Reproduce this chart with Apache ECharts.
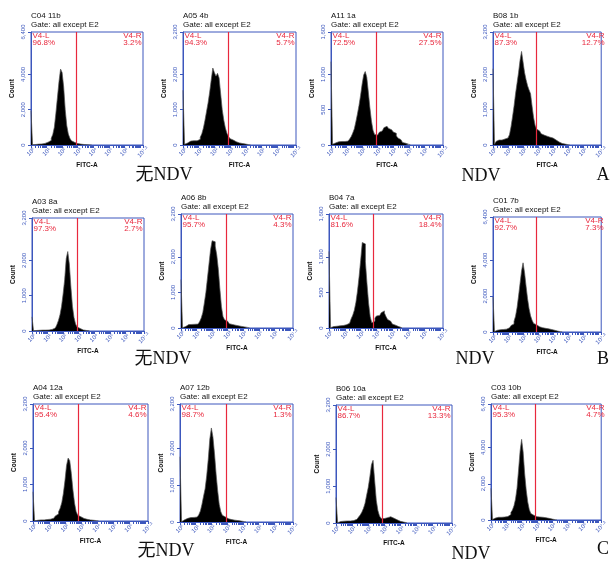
<!DOCTYPE html>
<html><head><meta charset="utf-8">
<script src="https://cdn.jsdelivr.net/npm/echarts@6/dist/echarts.min.js"></script>
<style>html,body{margin:0;padding:0;background:#fff}#c{width:610px;height:562px}</style>
</head><body><div id="c"></div>
<script>
// ---------------- DATA ----------------
const sampleIds = ['C04 11b','A05 4b','A11 1a','B08 1b','A03 8a','A06 8b','B04 7a','C01 7b','A04 12a','A07 12b','B06 10a','C03 10b'];
const gateText = 'Gate: all except E2';
const leftGateName = 'V4-L';
const rightGateName = 'V4-R';
const leftPct  = ['96.8%','94.3%','72.5%','87.3%','97.3%','95.7%','81.6%','92.7%','95.4%','98.7%','86.7%','95.3%'];
const rightPct = ['3.2%','5.7%','27.5%','12.7%','2.7%','4.3%','18.4%','7.3%','4.6%','1.3%','13.3%','4.7%'];
const yMax = [6400,3200,1600,3200, 3200,3200,1600,6400, 3200,3200,3200,6400];
const yTicks6400 = [0,2000,4000,6400];
const yTicks3200 = [0,1000,2000,3200];
const yTicks1600 = [0,500,1000,1600];
const gateLog = [2.90,2.86,2.90,2.87, 2.90,2.90,2.79,2.85, 2.82,2.92,2.84,2.86];
const xLabelExps = [0,1,2,3,4,5,6,7.2];
const xLabelTexts = ['10⁰','10¹','10²','10³','10⁴','10⁵','10⁶','10⁷·²'];
const xMaxLog = 7.2;
const binWidthLog = 0.1;
const groupLabels = ['无NDV','NDV'];
const rowLetters = ['A','B','C'];
const xAxisName = 'FITC-A';
const yAxisName = 'Count';

// counts per 0.1-decade bin starting at 10^0
const counts1 = [1950,10,30,40,50,60,60,70,90,120,160,200,260,380,600,1000,1800,2700,3600,4300,4100,3300,2000,1100,620,380,240,150,110,80,60,50,40,30,25,20,15,10,5,0];
const counts2 = [1550,20,60,90,110,100,120,110,120,130,160,220,320,480,700,950,1200,1500,1850,2180,2050,1950,2030,1900,1450,1000,700,480,330,240,180,140,110,90,75,60,50,40,30,25,20,10,5,0];
const counts3 = [1180,10,30,40,45,40,50,45,50,50,55,65,85,120,170,230,330,440,560,700,860,990,1040,960,750,530,340,210,150,140,165,180,200,220,245,265,255,235,215,200,185,165,130,100,75,50,35,25,15,10,5,0];
const counts4 = [2160,20,100,140,150,140,160,170,180,200,220,300,520,800,1100,1450,1750,2050,2400,2650,2350,2050,1850,1680,1560,1450,1100,780,560,450,400,370,320,280,260,250,235,220,210,195,170,140,110,85,60,45,35,25,15,10,5,0];
const counts5 = [400,5,15,20,20,25,25,20,25,25,30,35,45,60,85,120,180,300,460,700,1050,1450,2050,2250,1900,1250,700,380,200,115,70,45,30,20,15,10,5,0];
const counts6 = [1360,10,40,80,95,90,100,95,105,100,110,140,180,280,430,700,1000,1400,1800,2200,2450,2420,2300,2050,1650,1100,600,320,230,190,150,120,100,90,80,70,60,50,45,40,30,25,15,5,0];
const counts7 = [1075,5,20,25,25,30,30,30,35,40,45,50,65,90,130,180,250,360,520,720,950,1200,1180,930,620,350,160,75,95,140,170,175,190,215,240,210,160,120,95,75,55,40,30,20,10,5,0];
const counts8 = [1960,30,100,130,130,120,140,150,160,185,230,280,360,450,600,880,1350,2000,2700,3400,3850,3300,2550,1850,1300,900,650,480,400,340,290,260,240,220,205,190,175,160,140,125,100,70,50,30,20,10,0];
const counts9 = [800,5,20,25,30,35,30,35,40,45,50,60,75,100,140,190,250,350,500,750,1100,1520,1720,1650,1300,850,490,260,160,115,90,70,55,45,38,30,25,20,15,10,5,0];
const counts10 = [1770,10,60,90,100,110,120,115,125,130,135,160,200,300,480,700,900,1250,1700,2250,2550,2300,1850,1300,850,480,280,180,135,100,85,75,65,60,50,45,38,30,25,18,12,5,0];
const counts11 = [690,10,40,50,50,55,55,50,55,60,65,80,100,125,160,215,290,390,530,750,960,1250,1580,1700,1150,620,340,190,125,120,130,145,160,170,150,130,105,85,65,45,35,25,15,8,0];
const counts12 = [1750,30,110,140,150,140,150,160,165,175,190,230,300,420,550,780,1150,1750,2750,3800,4450,3750,2550,1650,1000,580,360,260,210,185,175,165,155,150,140,125,105,90,70,50,35,20,10,0];

// ---------------- LAYOUT ----------------
const panelCounts = [counts1,counts2,counts3,counts4,counts5,counts6,counts7,counts8,counts9,counts10,counts11,counts12];
const boxes = [
  [31,32,112,113],[183,32,113,113],[331,32,112,113],[493,32,113,113],
  [32,218,112,113],[181,214,112,114],[329,214,114,114],[493,217,112,115],
  [33,404,115,117],[180,404,113,118],[336,405,116,118],[491,404,115,116]
];
const groupPos = [ // [x,y] for 无NDV, NDV, letter per row
  [[164,175],[481,176],[603,175]],
  [[163,359],[475,359],[603,359]],
  [[166,551],[471,554],[603,549]]
];
const BLUE = '#3c57bd';
const RED = '#e8283d';

function yTicksFor(m){ return m===6400?yTicks6400:(m===1600?yTicks1600:yTicks3200); }
function fmtThousands(v){ return String(v).replace(/\B(?=(\d{3})+(?!\d))/g, ','); }
const minorTicks = [];
for (let n=0;n<=7;n++) for (let k=1;k<=9;k++){ const v=n+Math.log10(k); if(v<=xMaxLog+1e-9) minorTicks.push(v); }
minorTicks.push(xMaxLog);

const grids=[], xAxes=[], yAxes=[], series=[], graphics=[];
boxes.forEach((b,i)=>{
  const [l,t,w,h]=b;
  grids.push({left:l, top:t, width:w, height:h, show:true, borderColor:BLUE, borderWidth:1, backgroundColor:'transparent'});
  xAxes.push({
    gridIndex:i, type:'value', min:0, max:xMaxLog,
    name:xAxisName, nameLocation:'middle', nameGap:12,
    nameTextStyle:{fontFamily:'Liberation Sans', fontSize:6.5, fontWeight:'bold', color:'#111'},
    axisLine:{show:true, lineStyle:{color:BLUE, width:1}},
    axisTick:{show:true, length:3, customValues:minorTicks, lineStyle:{color:BLUE, width:1}},
    axisLabel:{show:true, customValues:xLabelExps, rotate:45, margin:7, align:'center', verticalAlign:'middle',
      fontSize:6, fontFamily:'Liberation Sans', color:BLUE,
      formatter:(v)=>{const idx=xLabelExps.findIndex(e=>Math.abs(e-v)<1e-6); return idx>=0?xLabelTexts[idx]:'';}},
    splitLine:{show:false}
  });
  const ym=yMax[i];
  yAxes.push({
    gridIndex:i, type:'value', min:0, max:ym,
    name:yAxisName, nameLocation:'middle', nameGap:15, nameRotate:90,
    nameTextStyle:{fontFamily:'Liberation Sans', fontSize:6.5, fontWeight:'bold', color:'#111'},
    axisLine:{show:true, lineStyle:{color:BLUE, width:1}},
    axisTick:{show:true, length:3, customValues:yTicksFor(ym), lineStyle:{color:BLUE}},
    axisLabel:{show:true, customValues:yTicksFor(ym), rotate:90, margin:5, fontSize:6, fontFamily:'Liberation Sans', color:BLUE,
      formatter:(v)=>fmtThousands(v)},
    splitLine:{show:false}
  });
  const c=panelCounts[i];
  const pts=c.map((v,j)=>[j*binWidthLog, v]);
  series.push({
    type:'line', xAxisIndex:i, yAxisIndex:i, step:'end', symbol:'none', data:pts, z:2,
    lineStyle:{color:'#555', width:0.7}, areaStyle:{color:'#000', opacity:1},
    markLine:{silent:true, symbol:'none', label:{show:false}, animation:false, z:5,
      lineStyle:{color:RED, width:1.2, type:'solid', opacity:1}, emphasis:{disabled:true},
      data:[{xAxis:gateLog[i]}]}
  });
  const tf='8px "Liberation Sans"';
  graphics.push({type:'text', style:{text:sampleIds[i], x:l, y:t-16.5, textAlign:'left', textVerticalAlign:'middle', font:tf, fill:'#111'}});
  graphics.push({type:'text', style:{text:gateText, x:l, y:t-7.5, textAlign:'left', textVerticalAlign:'middle', font:tf, fill:'#111'}});
  graphics.push({type:'text', style:{text:leftGateName, x:l+1.5, y:t+3.5, textAlign:'left', textVerticalAlign:'middle', font:tf, fill:RED}});
  graphics.push({type:'text', style:{text:leftPct[i], x:l+1.5, y:t+10.5, textAlign:'left', textVerticalAlign:'middle', font:tf, fill:RED}});
  graphics.push({type:'text', style:{text:rightGateName, x:l+w-1.5, y:t+3.5, textAlign:'right', textVerticalAlign:'middle', font:tf, fill:RED}});
  graphics.push({type:'text', style:{text:rightPct[i], x:l+w-1.5, y:t+10.5, textAlign:'right', textVerticalAlign:'middle', font:tf, fill:RED}});
});
groupPos.forEach((row,r)=>{
  graphics.push({type:'text', style:{text:groupLabels[0], x:row[0][0], y:row[0][1], textAlign:'center', textVerticalAlign:'middle', font:'18px "Liberation Serif", "Noto Sans CJK SC"', fill:'#111'}});
  graphics.push({type:'text', style:{text:groupLabels[1], x:row[1][0], y:row[1][1], textAlign:'center', textVerticalAlign:'middle', font:'18px "Liberation Serif"', fill:'#111'}});
  graphics.push({type:'text', style:{text:rowLetters[r], x:row[2][0], y:row[2][1], textAlign:'center', textVerticalAlign:'middle', font:'18px "Liberation Serif"', fill:'#111'}});
});

const chart = echarts.init(document.getElementById('c'), null, {renderer:'canvas'});
chart.setOption({animation:false, backgroundColor:'#fff', grid:grids, xAxis:xAxes, yAxis:yAxes, series:series, graphic:graphics});
</script></body></html>
